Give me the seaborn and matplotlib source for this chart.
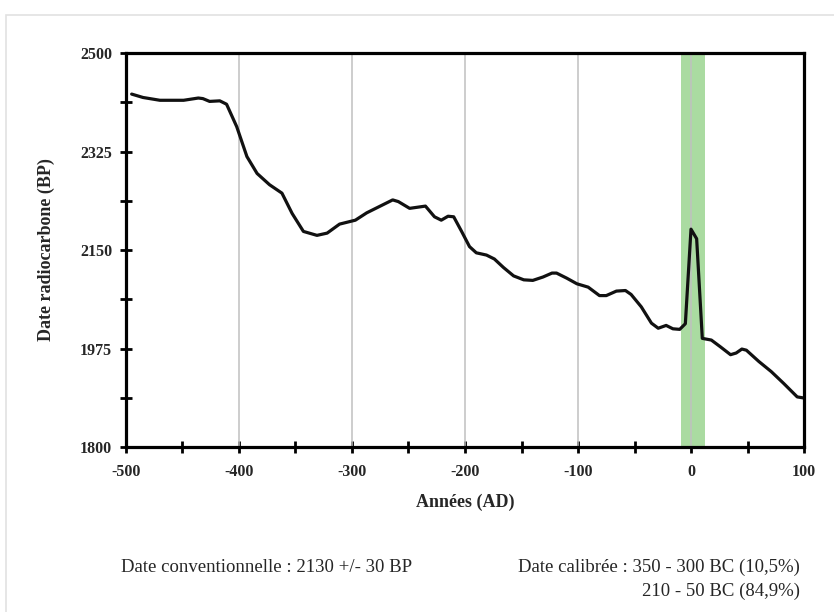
import matplotlib
matplotlib.use("Agg")
import matplotlib.pyplot as plt
from matplotlib.patches import Rectangle
from matplotlib.ticker import MultipleLocator, FixedLocator
import seaborn as sns
import pandas as pd

# courbe de calibration
annees = [-495, -485, -470, -449, -436, -432, -426, -417, -411, -402, -393, -384,
          -373, -362, -353, -343, -331, -322, -311, -297, -287, -275, -264, -259,
          -249, -235, -227, -221, -215, -210, -203, -196, -190, -181, -174, -166,
          -157, -148, -140, -131, -123, -119, -110, -101, -91, -81, -75, -66, -58,
          -53, -44, -35, -29, -22, -16, -10, -5, 0, 5, 10, 18, 26, 35, 40, 45, 49,
          60, 71, 82, 94, 100]
bp = [2427, 2421, 2416, 2416, 2420, 2419, 2414, 2415, 2409, 2369, 2316, 2286,
      2266, 2251, 2215, 2183, 2176, 2180, 2196, 2203, 2216, 2228, 2239, 2236,
      2224, 2228, 2209, 2203, 2210, 2209, 2183, 2156, 2145, 2141, 2134, 2119,
      2104, 2097, 2096, 2102, 2109, 2109, 2100, 2090, 2084, 2069, 2069, 2077, 2078,
      2071, 2049, 2020, 2011, 2016, 2010, 2009, 2019, 2187, 2170, 1993, 1990, 1978,
      1964, 1967, 1974, 1972, 1952, 1934, 1913, 1889, 1887]

bande = (-9, 12)
yticks_maj = [1800, 1975, 2150, 2325, 2500]
yticks_min = [1887.5, 2062.5, 2237.5, 2412.5]
texte_conv = "Date conventionnelle : 2130 +/- 30 BP"
texte_cal1 = "Date calibrée : 350 - 300 BC (10,5%)"
texte_cal2 = "210 - 50 BC (84,9%)"

df = pd.DataFrame({"annee": annees, "bp": bp})

sns.set_style("white")
plt.rcParams['font.family'] = ['Liberation Serif', 'DejaVu Serif']
plt.rcParams['axes.unicode_minus'] = False

fig = plt.figure(figsize=(8.34, 6.12), dpi=100)
# cadre gris clair autour de la figure
fig.patches.append(Rectangle((6 / 834, -0.1), 1.1, 1 - 15 / 612 + 0.1,
                             transform=fig.transFigure, fill=False,
                             edgecolor="#e2e2e2", lw=1.2))
ax = fig.add_axes([126 / 834, 1 - 447 / 612, 678 / 834, 394 / 612])

ax.axvspan(bande[0], bande[1], color="#aadba1", lw=0, zorder=1)
for x in range(-400, 100, 100):
    ax.axvline(x, color="#c0c0c0", lw=1.1, zorder=1.5)

sns.lineplot(data=df, x="annee", y="bp", ax=ax, color="#111111", lw=2.3,
             estimator=None, sort=False, zorder=3, solid_joinstyle="round")

ax.set_xlim(-500, 100)
ax.set_ylim(1800, 2500)
ax.xaxis.set_major_locator(MultipleLocator(100))
ax.xaxis.set_minor_locator(MultipleLocator(50))
ax.set_yticks(yticks_maj)
ax.yaxis.set_minor_locator(FixedLocator(yticks_min))

for s in ax.spines.values():
    s.set_color("black")
    s.set_linewidth(2.3)
    s.set_zorder(4)

ax.tick_params(axis="both", which="both", direction="inout", length=8, width=2,
               color="black", labelsize=11.5, bottom=True, left=True)
ax.tick_params(axis="x", which="major", pad=8)
ax.tick_params(axis="y", which="major", pad=6)
for lab in ax.get_xticklabels() + ax.get_yticklabels():
    lab.set_fontweight("bold")

ax.set_xlabel("Années (AD)", fontsize=13, fontweight="bold", labelpad=10)
ax.set_ylabel("Date radiocarbone (BP)", fontsize=13, fontweight="bold", labelpad=18)

fig.text(121 / 834, 1 - 567 / 612, texte_conv, fontsize=13.5, va="center", ha="left")
fig.text(800 / 834, 1 - 567 / 612, texte_cal1, fontsize=13.5, va="center", ha="right")
fig.text(800 / 834, 1 - 591 / 612, texte_cal2, fontsize=13.5, va="center", ha="right")

fig.savefig("out.png", dpi=100)
